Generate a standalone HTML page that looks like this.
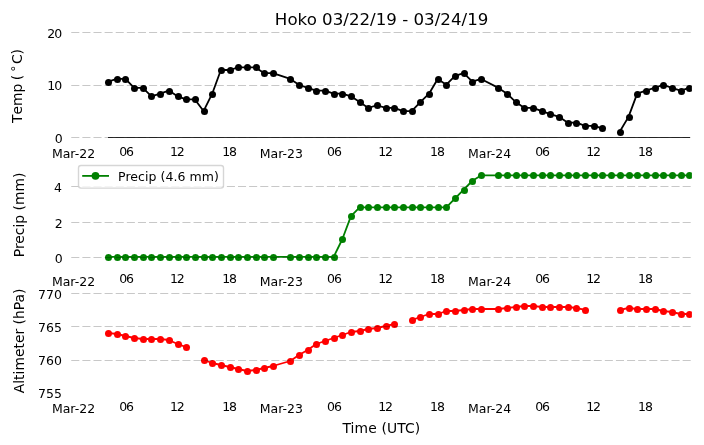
<!DOCTYPE html>
<html><head><meta charset="utf-8"><title>Hoko 03/22/19 - 03/24/19</title>
<style>
html,body{margin:0;padding:0;background:#fff;}
body{width:704px;height:445px;overflow:hidden;}
svg{display:block;font-family:"DejaVu Sans","Liberation Sans",sans-serif;}
.tk{font-size:12.5px;fill:#000;}
.lb{font-size:13.89px;fill:#000;}
</style></head><body>
<svg width="704" height="445" viewBox="0 0 704 445">
<defs><clipPath id="ax"><rect x="71.25" y="0" width="620.65" height="445"/></clipPath></defs>
<rect width="704" height="445" fill="#fff"/>
<text x="381.6" y="25.2" text-anchor="middle" font-size="16.67px">Hoko 03/22/19 - 03/24/19</text>

<g clip-path="url(#ax)">
<line x1="107.5" x2="689.9" y1="137.5" y2="137.5" stroke="#2e2e2e" stroke-width="1" shape-rendering="crispEdges"/>
<polyline points="108.13,81.58 116.80,78.95 125.47,78.95 134.15,87.90 142.82,87.90 151.49,96.32 160.17,93.69 168.84,90.53 177.51,96.32 186.18,99.47 194.86,99.47 203.53,111.05 212.20,93.69 220.88,70.01 229.55,70.01 238.22,67.38 246.90,67.38 255.57,67.38 264.24,73.16 272.91,73.16 290.26,78.95 298.93,84.74 307.61,87.90 316.28,90.53 324.95,90.53 333.62,93.69 342.30,93.69 350.97,96.32 359.64,102.10 368.32,107.89 376.99,105.26 385.66,107.89 394.34,107.89 403.01,111.05 411.68,111.05 420.36,102.10 429.03,93.69 437.70,78.95 446.37,84.74 455.05,75.79 463.72,73.16 472.39,81.58 481.07,78.95 498.41,87.90 507.08,93.69 515.76,102.10 524.43,107.89 533.10,107.89 541.78,111.05 550.45,114.21 559.12,116.84 567.80,122.63 576.47,122.63 585.14,125.78 593.82,125.78 602.49,128.41" fill="none" stroke="#000" stroke-width="1.8" stroke-linejoin="round" stroke-linecap="square"/>
<polyline points="619.83,131.57 628.51,116.84 637.18,93.69 645.85,90.53 654.53,87.90 663.20,84.74 671.87,87.90 680.55,90.53 689.22,87.90" fill="none" stroke="#000" stroke-width="1.8" stroke-linejoin="round" stroke-linecap="square"/>
<circle cx="108.5" cy="82.5" r="3.5" fill="#000"/>
<circle cx="117.5" cy="79.5" r="3.5" fill="#000"/>
<circle cx="125.5" cy="79.5" r="3.5" fill="#000"/>
<circle cx="134.5" cy="88.5" r="3.5" fill="#000"/>
<circle cx="143.5" cy="88.5" r="3.5" fill="#000"/>
<circle cx="151.5" cy="96.5" r="3.5" fill="#000"/>
<circle cx="160.5" cy="94.5" r="3.5" fill="#000"/>
<circle cx="169.5" cy="91.5" r="3.5" fill="#000"/>
<circle cx="178.5" cy="96.5" r="3.5" fill="#000"/>
<circle cx="186.5" cy="99.5" r="3.5" fill="#000"/>
<circle cx="195.5" cy="99.5" r="3.5" fill="#000"/>
<circle cx="204.5" cy="111.5" r="3.5" fill="#000"/>
<circle cx="212.5" cy="94.5" r="3.5" fill="#000"/>
<circle cx="221.5" cy="70.5" r="3.5" fill="#000"/>
<circle cx="230.5" cy="70.5" r="3.5" fill="#000"/>
<circle cx="238.5" cy="67.5" r="3.5" fill="#000"/>
<circle cx="247.5" cy="67.5" r="3.5" fill="#000"/>
<circle cx="256.5" cy="67.5" r="3.5" fill="#000"/>
<circle cx="264.5" cy="73.5" r="3.5" fill="#000"/>
<circle cx="273.5" cy="73.5" r="3.5" fill="#000"/>
<circle cx="290.5" cy="79.5" r="3.5" fill="#000"/>
<circle cx="299.5" cy="85.5" r="3.5" fill="#000"/>
<circle cx="308.5" cy="88.5" r="3.5" fill="#000"/>
<circle cx="316.5" cy="91.5" r="3.5" fill="#000"/>
<circle cx="325.5" cy="91.5" r="3.5" fill="#000"/>
<circle cx="334.5" cy="94.5" r="3.5" fill="#000"/>
<circle cx="342.5" cy="94.5" r="3.5" fill="#000"/>
<circle cx="351.5" cy="96.5" r="3.5" fill="#000"/>
<circle cx="360.5" cy="102.5" r="3.5" fill="#000"/>
<circle cx="368.5" cy="108.5" r="3.5" fill="#000"/>
<circle cx="377.5" cy="105.5" r="3.5" fill="#000"/>
<circle cx="386.5" cy="108.5" r="3.5" fill="#000"/>
<circle cx="394.5" cy="108.5" r="3.5" fill="#000"/>
<circle cx="403.5" cy="111.5" r="3.5" fill="#000"/>
<circle cx="412.5" cy="111.5" r="3.5" fill="#000"/>
<circle cx="420.5" cy="102.5" r="3.5" fill="#000"/>
<circle cx="429.5" cy="94.5" r="3.5" fill="#000"/>
<circle cx="438.5" cy="79.5" r="3.5" fill="#000"/>
<circle cx="446.5" cy="85.5" r="3.5" fill="#000"/>
<circle cx="455.5" cy="76.5" r="3.5" fill="#000"/>
<circle cx="464.5" cy="73.5" r="3.5" fill="#000"/>
<circle cx="472.5" cy="82.5" r="3.5" fill="#000"/>
<circle cx="481.5" cy="79.5" r="3.5" fill="#000"/>
<circle cx="498.5" cy="88.5" r="3.5" fill="#000"/>
<circle cx="507.5" cy="94.5" r="3.5" fill="#000"/>
<circle cx="516.5" cy="102.5" r="3.5" fill="#000"/>
<circle cx="524.5" cy="108.5" r="3.5" fill="#000"/>
<circle cx="533.5" cy="108.5" r="3.5" fill="#000"/>
<circle cx="542.5" cy="111.5" r="3.5" fill="#000"/>
<circle cx="550.5" cy="114.5" r="3.5" fill="#000"/>
<circle cx="559.5" cy="117.5" r="3.5" fill="#000"/>
<circle cx="568.5" cy="123.5" r="3.5" fill="#000"/>
<circle cx="576.5" cy="123.5" r="3.5" fill="#000"/>
<circle cx="585.5" cy="126.5" r="3.5" fill="#000"/>
<circle cx="594.5" cy="126.5" r="3.5" fill="#000"/>
<circle cx="602.5" cy="128.5" r="3.5" fill="#000"/>
<circle cx="620.5" cy="132.5" r="3.5" fill="#000"/>
<circle cx="629.5" cy="117.5" r="3.5" fill="#000"/>
<circle cx="637.5" cy="94.5" r="3.5" fill="#000"/>
<circle cx="646.5" cy="91.5" r="3.5" fill="#000"/>
<circle cx="655.5" cy="88.5" r="3.5" fill="#000"/>
<circle cx="663.5" cy="85.5" r="3.5" fill="#000"/>
<circle cx="672.5" cy="88.5" r="3.5" fill="#000"/>
<circle cx="681.5" cy="91.5" r="3.5" fill="#000"/>
<circle cx="689.5" cy="88.5" r="3.5" fill="#000"/>
<polyline points="108.13,256.95 116.80,256.95 125.47,256.95 134.15,256.95 142.82,256.95 151.49,256.95 160.17,256.95 168.84,256.95 177.51,256.95 186.18,256.95 194.86,256.95 203.53,256.95 212.20,256.95 220.88,256.95 229.55,256.95 238.22,256.95 246.90,256.95 255.57,256.95 264.24,256.95 272.91,256.95 290.26,256.95 298.93,256.95 307.61,256.95 316.28,256.95 324.95,256.95 333.62,256.95 342.30,239.23 350.97,216.19 359.64,207.33 368.32,207.33 376.99,207.33 385.66,207.33 394.34,207.33 403.01,207.33 411.68,207.33 420.36,207.33 429.03,207.33 437.70,207.33 446.37,207.33 455.05,198.47 463.72,189.61 472.39,180.75 481.07,175.44 498.41,175.44 507.08,175.44 515.76,175.44 524.43,175.44 533.10,175.44 541.78,175.44 550.45,175.44 559.12,175.44 567.80,175.44 576.47,175.44 585.14,175.44 593.82,175.44 602.49,175.44 611.16,175.44 619.83,175.44 628.51,175.44 637.18,175.44 645.85,175.44 654.53,175.44 663.20,175.44 671.87,175.44 680.55,175.44 689.22,175.44" fill="none" stroke="#008000" stroke-width="1.8" stroke-linejoin="round" stroke-linecap="square"/>
<circle cx="108.5" cy="257.5" r="3.5" fill="#008000"/>
<circle cx="117.5" cy="257.5" r="3.5" fill="#008000"/>
<circle cx="125.5" cy="257.5" r="3.5" fill="#008000"/>
<circle cx="134.5" cy="257.5" r="3.5" fill="#008000"/>
<circle cx="143.5" cy="257.5" r="3.5" fill="#008000"/>
<circle cx="151.5" cy="257.5" r="3.5" fill="#008000"/>
<circle cx="160.5" cy="257.5" r="3.5" fill="#008000"/>
<circle cx="169.5" cy="257.5" r="3.5" fill="#008000"/>
<circle cx="178.5" cy="257.5" r="3.5" fill="#008000"/>
<circle cx="186.5" cy="257.5" r="3.5" fill="#008000"/>
<circle cx="195.5" cy="257.5" r="3.5" fill="#008000"/>
<circle cx="204.5" cy="257.5" r="3.5" fill="#008000"/>
<circle cx="212.5" cy="257.5" r="3.5" fill="#008000"/>
<circle cx="221.5" cy="257.5" r="3.5" fill="#008000"/>
<circle cx="230.5" cy="257.5" r="3.5" fill="#008000"/>
<circle cx="238.5" cy="257.5" r="3.5" fill="#008000"/>
<circle cx="247.5" cy="257.5" r="3.5" fill="#008000"/>
<circle cx="256.5" cy="257.5" r="3.5" fill="#008000"/>
<circle cx="264.5" cy="257.5" r="3.5" fill="#008000"/>
<circle cx="273.5" cy="257.5" r="3.5" fill="#008000"/>
<circle cx="290.5" cy="257.5" r="3.5" fill="#008000"/>
<circle cx="299.5" cy="257.5" r="3.5" fill="#008000"/>
<circle cx="308.5" cy="257.5" r="3.5" fill="#008000"/>
<circle cx="316.5" cy="257.5" r="3.5" fill="#008000"/>
<circle cx="325.5" cy="257.5" r="3.5" fill="#008000"/>
<circle cx="334.5" cy="257.5" r="3.5" fill="#008000"/>
<circle cx="342.5" cy="239.5" r="3.5" fill="#008000"/>
<circle cx="351.5" cy="216.5" r="3.5" fill="#008000"/>
<circle cx="360.5" cy="207.5" r="3.5" fill="#008000"/>
<circle cx="368.5" cy="207.5" r="3.5" fill="#008000"/>
<circle cx="377.5" cy="207.5" r="3.5" fill="#008000"/>
<circle cx="386.5" cy="207.5" r="3.5" fill="#008000"/>
<circle cx="394.5" cy="207.5" r="3.5" fill="#008000"/>
<circle cx="403.5" cy="207.5" r="3.5" fill="#008000"/>
<circle cx="412.5" cy="207.5" r="3.5" fill="#008000"/>
<circle cx="420.5" cy="207.5" r="3.5" fill="#008000"/>
<circle cx="429.5" cy="207.5" r="3.5" fill="#008000"/>
<circle cx="438.5" cy="207.5" r="3.5" fill="#008000"/>
<circle cx="446.5" cy="207.5" r="3.5" fill="#008000"/>
<circle cx="455.5" cy="198.5" r="3.5" fill="#008000"/>
<circle cx="464.5" cy="190.5" r="3.5" fill="#008000"/>
<circle cx="472.5" cy="181.5" r="3.5" fill="#008000"/>
<circle cx="481.5" cy="175.5" r="3.5" fill="#008000"/>
<circle cx="498.5" cy="175.5" r="3.5" fill="#008000"/>
<circle cx="507.5" cy="175.5" r="3.5" fill="#008000"/>
<circle cx="516.5" cy="175.5" r="3.5" fill="#008000"/>
<circle cx="524.5" cy="175.5" r="3.5" fill="#008000"/>
<circle cx="533.5" cy="175.5" r="3.5" fill="#008000"/>
<circle cx="542.5" cy="175.5" r="3.5" fill="#008000"/>
<circle cx="550.5" cy="175.5" r="3.5" fill="#008000"/>
<circle cx="559.5" cy="175.5" r="3.5" fill="#008000"/>
<circle cx="568.5" cy="175.5" r="3.5" fill="#008000"/>
<circle cx="576.5" cy="175.5" r="3.5" fill="#008000"/>
<circle cx="585.5" cy="175.5" r="3.5" fill="#008000"/>
<circle cx="594.5" cy="175.5" r="3.5" fill="#008000"/>
<circle cx="602.5" cy="175.5" r="3.5" fill="#008000"/>
<circle cx="611.5" cy="175.5" r="3.5" fill="#008000"/>
<circle cx="620.5" cy="175.5" r="3.5" fill="#008000"/>
<circle cx="629.5" cy="175.5" r="3.5" fill="#008000"/>
<circle cx="637.5" cy="175.5" r="3.5" fill="#008000"/>
<circle cx="646.5" cy="175.5" r="3.5" fill="#008000"/>
<circle cx="655.5" cy="175.5" r="3.5" fill="#008000"/>
<circle cx="663.5" cy="175.5" r="3.5" fill="#008000"/>
<circle cx="672.5" cy="175.5" r="3.5" fill="#008000"/>
<circle cx="681.5" cy="175.5" r="3.5" fill="#008000"/>
<circle cx="689.5" cy="175.5" r="3.5" fill="#008000"/>
<polyline points="108.13,333.00 116.80,334.00 125.47,336.00 134.15,338.00 142.82,339.00 151.49,339.00 160.17,339.00 168.84,340.00 177.51,344.00 186.18,347.00" fill="none" stroke="#ff0000" stroke-width="1.8" stroke-linejoin="round" stroke-linecap="square"/>
<polyline points="203.53,360.00 212.20,363.00 220.88,365.00 229.55,367.00 238.22,369.00 246.90,371.00 255.57,370.00 264.24,368.00 272.91,366.00 290.26,361.00 298.93,355.00 307.61,350.00 316.28,344.00 324.95,341.00 333.62,338.00 342.30,335.00 350.97,332.00 359.64,331.00 368.32,329.00 376.99,328.00 385.66,326.00 394.34,324.00" fill="none" stroke="#ff0000" stroke-width="1.8" stroke-linejoin="round" stroke-linecap="square"/>
<polyline points="411.68,320.00 420.36,317.00 429.03,314.00 437.70,314.00 446.37,311.00 455.05,311.00 463.72,310.00 472.39,309.00 481.07,309.00 498.41,309.00 507.08,308.00 515.76,307.00 524.43,306.00 533.10,306.00 541.78,307.00 550.45,307.00 559.12,307.00 567.80,307.00 576.47,308.00 585.14,310.00" fill="none" stroke="#ff0000" stroke-width="1.8" stroke-linejoin="round" stroke-linecap="square"/>
<polyline points="619.83,310.00 628.51,308.00 637.18,309.00 645.85,309.00 654.53,309.00 663.20,311.00 671.87,312.00 680.55,314.00 689.22,314.00" fill="none" stroke="#ff0000" stroke-width="1.8" stroke-linejoin="round" stroke-linecap="square"/>
<circle cx="108.5" cy="333.5" r="3.5" fill="#ff0000"/>
<circle cx="117.5" cy="334.5" r="3.5" fill="#ff0000"/>
<circle cx="125.5" cy="336.5" r="3.5" fill="#ff0000"/>
<circle cx="134.5" cy="338.5" r="3.5" fill="#ff0000"/>
<circle cx="143.5" cy="339.5" r="3.5" fill="#ff0000"/>
<circle cx="151.5" cy="339.5" r="3.5" fill="#ff0000"/>
<circle cx="160.5" cy="339.5" r="3.5" fill="#ff0000"/>
<circle cx="169.5" cy="340.5" r="3.5" fill="#ff0000"/>
<circle cx="178.5" cy="344.5" r="3.5" fill="#ff0000"/>
<circle cx="186.5" cy="347.5" r="3.5" fill="#ff0000"/>
<circle cx="204.5" cy="360.5" r="3.5" fill="#ff0000"/>
<circle cx="212.5" cy="363.5" r="3.5" fill="#ff0000"/>
<circle cx="221.5" cy="365.5" r="3.5" fill="#ff0000"/>
<circle cx="230.5" cy="367.5" r="3.5" fill="#ff0000"/>
<circle cx="238.5" cy="369.5" r="3.5" fill="#ff0000"/>
<circle cx="247.5" cy="371.5" r="3.5" fill="#ff0000"/>
<circle cx="256.5" cy="370.5" r="3.5" fill="#ff0000"/>
<circle cx="264.5" cy="368.5" r="3.5" fill="#ff0000"/>
<circle cx="273.5" cy="366.5" r="3.5" fill="#ff0000"/>
<circle cx="290.5" cy="361.5" r="3.5" fill="#ff0000"/>
<circle cx="299.5" cy="355.5" r="3.5" fill="#ff0000"/>
<circle cx="308.5" cy="350.5" r="3.5" fill="#ff0000"/>
<circle cx="316.5" cy="344.5" r="3.5" fill="#ff0000"/>
<circle cx="325.5" cy="341.5" r="3.5" fill="#ff0000"/>
<circle cx="334.5" cy="338.5" r="3.5" fill="#ff0000"/>
<circle cx="342.5" cy="335.5" r="3.5" fill="#ff0000"/>
<circle cx="351.5" cy="332.5" r="3.5" fill="#ff0000"/>
<circle cx="360.5" cy="331.5" r="3.5" fill="#ff0000"/>
<circle cx="368.5" cy="329.5" r="3.5" fill="#ff0000"/>
<circle cx="377.5" cy="328.5" r="3.5" fill="#ff0000"/>
<circle cx="386.5" cy="326.5" r="3.5" fill="#ff0000"/>
<circle cx="394.5" cy="324.5" r="3.5" fill="#ff0000"/>
<circle cx="412.5" cy="320.5" r="3.5" fill="#ff0000"/>
<circle cx="420.5" cy="317.5" r="3.5" fill="#ff0000"/>
<circle cx="429.5" cy="314.5" r="3.5" fill="#ff0000"/>
<circle cx="438.5" cy="314.5" r="3.5" fill="#ff0000"/>
<circle cx="446.5" cy="311.5" r="3.5" fill="#ff0000"/>
<circle cx="455.5" cy="311.5" r="3.5" fill="#ff0000"/>
<circle cx="464.5" cy="310.5" r="3.5" fill="#ff0000"/>
<circle cx="472.5" cy="309.5" r="3.5" fill="#ff0000"/>
<circle cx="481.5" cy="309.5" r="3.5" fill="#ff0000"/>
<circle cx="498.5" cy="309.5" r="3.5" fill="#ff0000"/>
<circle cx="507.5" cy="308.5" r="3.5" fill="#ff0000"/>
<circle cx="516.5" cy="307.5" r="3.5" fill="#ff0000"/>
<circle cx="524.5" cy="306.5" r="3.5" fill="#ff0000"/>
<circle cx="533.5" cy="306.5" r="3.5" fill="#ff0000"/>
<circle cx="542.5" cy="307.5" r="3.5" fill="#ff0000"/>
<circle cx="550.5" cy="307.5" r="3.5" fill="#ff0000"/>
<circle cx="559.5" cy="307.5" r="3.5" fill="#ff0000"/>
<circle cx="568.5" cy="307.5" r="3.5" fill="#ff0000"/>
<circle cx="576.5" cy="308.5" r="3.5" fill="#ff0000"/>
<circle cx="585.5" cy="310.5" r="3.5" fill="#ff0000"/>
<circle cx="620.5" cy="310.5" r="3.5" fill="#ff0000"/>
<circle cx="629.5" cy="308.5" r="3.5" fill="#ff0000"/>
<circle cx="637.5" cy="309.5" r="3.5" fill="#ff0000"/>
<circle cx="646.5" cy="309.5" r="3.5" fill="#ff0000"/>
<circle cx="655.5" cy="309.5" r="3.5" fill="#ff0000"/>
<circle cx="663.5" cy="311.5" r="3.5" fill="#ff0000"/>
<circle cx="672.5" cy="312.5" r="3.5" fill="#ff0000"/>
<circle cx="681.5" cy="314.5" r="3.5" fill="#ff0000"/>
<circle cx="689.5" cy="314.5" r="3.5" fill="#ff0000"/>
</g>
<g stroke-opacity="0.215">
<line x1="71.25" x2="691.9" y1="32.5" y2="32.5" stroke="#000" stroke-width="1" stroke-dasharray="8.08 3.036"/>
<line x1="71.25" x2="691.9" y1="85.5" y2="85.5" stroke="#000" stroke-width="1" stroke-dasharray="8.08 3.036"/>
<line x1="71.25" x2="691.9" y1="137.5" y2="137.5" stroke="#000" stroke-width="1" stroke-dasharray="8.08 3.036"/>
<line x1="71.25" x2="691.9" y1="186.5" y2="186.5" stroke="#000" stroke-width="1" stroke-dasharray="8.08 3.036"/>
<line x1="71.25" x2="691.9" y1="222.5" y2="222.5" stroke="#000" stroke-width="1" stroke-dasharray="8.08 3.036"/>
<line x1="71.25" x2="691.9" y1="257.5" y2="257.5" stroke="#000" stroke-width="1" stroke-dasharray="8.08 3.036"/>
<line x1="71.25" x2="691.9" y1="293.5" y2="293.5" stroke="#000" stroke-width="1" stroke-dasharray="8.08 3.036"/>
<line x1="71.25" x2="691.9" y1="326.5" y2="326.5" stroke="#000" stroke-width="1" stroke-dasharray="8.08 3.036"/>
<line x1="71.25" x2="691.9" y1="360.5" y2="360.5" stroke="#000" stroke-width="1" stroke-dasharray="8.08 3.036"/>
</g>
<rect x="78.5" y="165.5" width="145" height="22.6" rx="2.5" ry="2.5" fill="#fff" fill-opacity="0.8" stroke="#ccc" stroke-opacity="0.8" stroke-width="1.39"/>
<line x1="83.1" x2="108.1" y1="175.9" y2="175.9" stroke="#008000" stroke-width="1.8" stroke-linecap="square"/>
<circle cx="95.5" cy="175.8" r="3.9" fill="#008000"/>
<text class="tk" x="118.0" y="180.7" letter-spacing="0.06">Precip (4.6 mm)</text>
<g class="tk">
<text x="73.50" y="158" text-anchor="middle">Mar-22</text>
<text x="126.00" y="156" text-anchor="middle" letter-spacing="-1.1">06</text>
<text x="176.80" y="156" text-anchor="middle" letter-spacing="-1.1">12</text>
<text x="229.00" y="156" text-anchor="middle" letter-spacing="-1.1">18</text>
<text x="281.30" y="158" text-anchor="middle">Mar-23</text>
<text x="333.90" y="156" text-anchor="middle" letter-spacing="-1.1">06</text>
<text x="385.00" y="156" text-anchor="middle" letter-spacing="-1.1">12</text>
<text x="436.90" y="156" text-anchor="middle" letter-spacing="-1.1">18</text>
<text x="489.60" y="158" text-anchor="middle">Mar-24</text>
<text x="542.00" y="156" text-anchor="middle" letter-spacing="-1.1">06</text>
<text x="593.00" y="156" text-anchor="middle" letter-spacing="-1.1">12</text>
<text x="644.90" y="156" text-anchor="middle" letter-spacing="-1.1">18</text>
<text x="73.50" y="286" text-anchor="middle">Mar-22</text>
<text x="126.00" y="283" text-anchor="middle" letter-spacing="-1.1">06</text>
<text x="176.80" y="283" text-anchor="middle" letter-spacing="-1.1">12</text>
<text x="229.00" y="283" text-anchor="middle" letter-spacing="-1.1">18</text>
<text x="281.30" y="286" text-anchor="middle">Mar-23</text>
<text x="333.90" y="283" text-anchor="middle" letter-spacing="-1.1">06</text>
<text x="385.00" y="283" text-anchor="middle" letter-spacing="-1.1">12</text>
<text x="436.90" y="283" text-anchor="middle" letter-spacing="-1.1">18</text>
<text x="489.60" y="286" text-anchor="middle">Mar-24</text>
<text x="542.00" y="283" text-anchor="middle" letter-spacing="-1.1">06</text>
<text x="593.00" y="283" text-anchor="middle" letter-spacing="-1.1">12</text>
<text x="644.90" y="283" text-anchor="middle" letter-spacing="-1.1">18</text>
<text x="73.50" y="413" text-anchor="middle">Mar-22</text>
<text x="126.00" y="411" text-anchor="middle" letter-spacing="-1.1">06</text>
<text x="176.80" y="411" text-anchor="middle" letter-spacing="-1.1">12</text>
<text x="229.00" y="411" text-anchor="middle" letter-spacing="-1.1">18</text>
<text x="281.30" y="413" text-anchor="middle">Mar-23</text>
<text x="333.90" y="411" text-anchor="middle" letter-spacing="-1.1">06</text>
<text x="385.00" y="411" text-anchor="middle" letter-spacing="-1.1">12</text>
<text x="436.90" y="411" text-anchor="middle" letter-spacing="-1.1">18</text>
<text x="489.60" y="413" text-anchor="middle">Mar-24</text>
<text x="542.00" y="411" text-anchor="middle" letter-spacing="-1.1">06</text>
<text x="593.00" y="411" text-anchor="middle" letter-spacing="-1.1">12</text>
<text x="644.90" y="411" text-anchor="middle" letter-spacing="-1.1">18</text>
<text x="61.05" y="38.00" text-anchor="end" letter-spacing="-1.1">20</text>
<text x="61.05" y="90.00" text-anchor="end" letter-spacing="-1.1">10</text>
<text x="62.7" y="143.00" text-anchor="end">0</text>
<text x="61.9" y="192.00" text-anchor="end">4</text>
<text x="62.7" y="227.50" text-anchor="end">2</text>
<text x="62.7" y="263.00" text-anchor="end">0</text>
<text x="61.9" y="299.00" text-anchor="end">770</text>
<text x="61.9" y="332.00" text-anchor="end">765</text>
<text x="61.9" y="365.00" text-anchor="end">760</text>
<text x="61.9" y="398.00" text-anchor="end">755</text>
</g>
<g class="lb">
<text x="381.4" y="432.7" text-anchor="middle" letter-spacing="0.13">Time (UTC)</text>
<text transform="translate(21.6,123) rotate(-90)" style="font-kerning:none">Temp<tspan dx="3.3">(</tspan><tspan font-size="12px" dx="2.4" dy="-4.9">∘</tspan><tspan dx="0.95" dy="4.9">C)</tspan></text>
<text transform="translate(23.6,214.9) rotate(-90)" text-anchor="middle">Precip (mm)</text>
<text transform="translate(23.6,340.9) rotate(-90)" text-anchor="middle">Altimeter (hPa)</text>
</g>
</svg></body></html>
